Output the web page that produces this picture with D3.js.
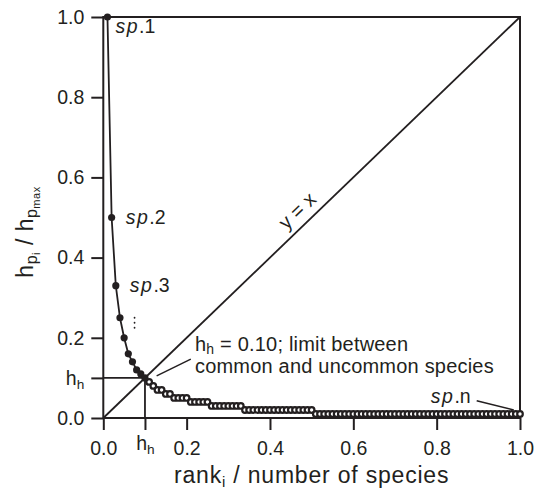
<!DOCTYPE html>
<html><head><meta charset="utf-8">
<script src="https://cdn.jsdelivr.net/npm/d3@7"></script>
<style>
body{margin:0;background:#fff;}
text{font-family:"Liberation Sans",Arial,Helvetica,sans-serif;fill:#231f20;}
</style></head>
<body><svg id="c" width="539" height="491"></svg>
<script>
// relative height h_pi / h_pmax for species ranked 1..100
const values = [
  1.00, 0.50, 0.33, 0.25, 0.20, 0.16, 0.14, 0.12, 0.11, 0.10,
  0.09, 0.08, 0.07, 0.07, 0.06, 0.06, 0.05, 0.05, 0.05, 0.05,
  0.04, 0.04, 0.04, 0.04, 0.04, 0.03, 0.03, 0.03, 0.03, 0.03,
  0.03, 0.03, 0.03, 0.02, 0.02, 0.02, 0.02, 0.02, 0.02, 0.02,
  0.02, 0.02, 0.02, 0.02, 0.02, 0.02, 0.02, 0.02, 0.02, 0.02,
  0.01, 0.01, 0.01, 0.01, 0.01, 0.01, 0.01, 0.01, 0.01, 0.01,
  0.01, 0.01, 0.01, 0.01, 0.01, 0.01, 0.01, 0.01, 0.01, 0.01,
  0.01, 0.01, 0.01, 0.01, 0.01, 0.01, 0.01, 0.01, 0.01, 0.01,
  0.01, 0.01, 0.01, 0.01, 0.01, 0.01, 0.01, 0.01, 0.01, 0.01,
  0.01, 0.01, 0.01, 0.01, 0.01, 0.01, 0.01, 0.01, 0.01, 0.01
];
const nSpecies = values.length;
const hh = 0.10;
const xTicks = [0, 0.1, 0.2, 0.4, 0.6, 0.8, 1.0];
const yTicks = [0, 0.1, 0.2, 0.4, 0.6, 0.8, 1.0];

const ink = "#231f20";
const W = 539, H = 491;
const m = {l:103.3, r:19, t:17, b:73};
const svg = d3.select("#c");
const x = d3.scaleLinear().domain([0,1]).range([m.l, W-m.r]);
const y = d3.scaleLinear().domain([0,1]).range([H-m.b, m.t]);

const pts = values.map((v,i)=>({rank:i+1, x:(i+1)/nSpecies, y:v}));

// frame
svg.append("rect").attr("x",x(0)).attr("y",y(1)).attr("width",x(1)-x(0)).attr("height",y(0)-y(1))
  .attr("fill","none").attr("stroke",ink).attr("stroke-width",2);

// axes
const fs = 19.5;
const yAx = svg.append("g").attr("transform",`translate(${x(0)},0)`)
  .call(d3.axisLeft(y).tickValues(yTicks).tickSize(12).tickPadding(7)
    .tickFormat(d=> d===hh ? "" : d3.format(".1f")(d)));
const xAx = svg.append("g").attr("transform",`translate(0,${y(0)})`)
  .call(d3.axisBottom(x).tickValues(xTicks).tickSize(12).tickPadding(11)
    .tickFormat(d=> d===hh ? "" : d3.format(".1f")(d)));
[yAx,xAx].forEach(g=>{
  g.select(".domain").remove();
  g.selectAll(".tick line").attr("stroke",ink).attr("stroke-width",2);
  g.selectAll(".tick text").attr("font-size",fs).attr("font-family",null).style("fill",ink);
});
function hhLabel(sel){
  sel.append("tspan").text("h");
  sel.append("tspan").attr("font-size",fs*0.7).attr("dy",4).text("h");
}
yAx.selectAll(".tick").filter(d=>d===hh).select("text").call(hhLabel);
xAx.selectAll(".tick").filter(d=>d===hh).select("text").attr("dy","0.45em").call(hhLabel);

// diagonal y = x
svg.append("line").attr("x1",x(0)).attr("y1",y(0)).attr("x2",x(1)).attr("y2",y(1))
  .attr("stroke",ink).attr("stroke-width",1.8);
const ang = -Math.atan((y(0)-y(1))/(x(1)-x(0)))*180/Math.PI;
svg.append("text").attr("transform",`translate(${x(0.49)},${y(0.49)}) rotate(${ang})`)
  .attr("text-anchor","middle").attr("dy",-8).attr("font-size",20).text("y = x");

// h_h cross lines
svg.append("line").attr("x1",x(0)).attr("y1",y(hh)).attr("x2",x(hh)).attr("y2",y(hh))
  .attr("stroke",ink).attr("stroke-width",1.8);
svg.append("line").attr("x1",x(hh)).attr("y1",y(0)).attr("x2",x(hh)).attr("y2",y(hh))
  .attr("stroke",ink).attr("stroke-width",1.8);

// curve
svg.append("path").datum(pts)
  .attr("d",d3.line().x(d=>x(d.x)).y(d=>y(d.y)))
  .attr("fill","none").attr("stroke",ink).attr("stroke-width",1.8);
svg.append("g").selectAll("circle").data(pts.filter(d=>d.rank>10)).join("circle")
  .attr("cx",d=>x(d.x)).attr("cy",d=>y(d.y)).attr("r",2.8)
  .attr("fill","#fff").attr("stroke",ink).attr("stroke-width",2.2);
svg.append("g").selectAll("circle").data(pts.filter(d=>d.rank<=10)).join("circle")
  .attr("cx",d=>x(d.x)).attr("cy",d=>y(d.y)).attr("r",3.6).attr("fill",ink);

// species labels
function spText(tx,ty,num){
  const t = svg.append("text").attr("x",tx).attr("y",ty).attr("font-size",fs);
  t.append("tspan").attr("font-style","italic").attr("letter-spacing","1.5").text("sp");
  t.append("tspan").text("."+num);
  return t;
}
spText(x(pts[0].x)+8, y(pts[0].y)+16, "1");
spText(x(pts[1].x)+14, y(pts[1].y)+6, "2");
spText(x(pts[2].x)+14, y(pts[2].y)+6, "3");
// vertical ellipsis
[0,1,2].forEach(i=>svg.append("circle").attr("cx",x(0.075)).attr("cy",y(0.25)+i*5).attr("r",0.9).attr("fill",ink));
spText(x(0.786), y(0.038), "n");
svg.append("line").attr("x1",x(0.896)).attr("y1",y(0.043)).attr("x2",x(0.985)).attr("y2",y(0.02))
  .attr("stroke",ink).attr("stroke-width",1.5);

// annotation
const afs = 20;
const ann = svg.append("text").attr("x",x(0.22)).attr("y",y(0.168)).attr("font-size",afs).attr("letter-spacing",0.2);
ann.append("tspan").text("h");
ann.append("tspan").attr("font-size",afs*0.7).attr("dy",3).text("h");
ann.append("tspan").attr("dy",-3).text(" = 0.10; limit between");
svg.append("text").attr("x",x(0.22)).attr("y",y(0.112)).attr("font-size",afs).attr("letter-spacing",0.2)
  .text("common and uncommon species");
svg.append("line").attr("x1",x(0.21)).attr("y1",y(0.147)).attr("x2",x(0.128)).attr("y2",y(0.105))
  .attr("stroke",ink).attr("stroke-width",1.5);

// axis titles
const xt = svg.append("text").attr("x",(x(0)+x(1))/2).attr("y",483).attr("text-anchor","middle")
  .attr("font-size",23).attr("letter-spacing",0.8);
xt.append("tspan").text("rank");
xt.append("tspan").attr("font-size",15).attr("dy",4).text("i");
xt.append("tspan").attr("dy",-4).text(" / number of species");

const yt = svg.append("text").attr("transform","translate(33,232) rotate(-90)").attr("text-anchor","middle")
  .attr("font-size",23).attr("letter-spacing",0.5);
yt.append("tspan").text("h");
yt.append("tspan").attr("font-size",16).attr("dy",4).text("p");
yt.append("tspan").attr("font-size",11).attr("dy",3).text("i");
yt.append("tspan").attr("dy",-7).text(" / h");
yt.append("tspan").attr("font-size",16).attr("dy",4).text("p");
yt.append("tspan").attr("font-size",11).attr("dy",3).text("max");
</script></body></html>
